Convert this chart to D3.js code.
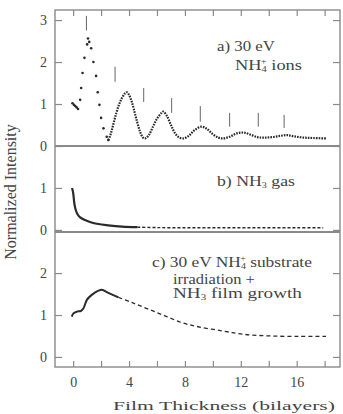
<!DOCTYPE html>
<html>
<head>
<meta charset="utf-8">
<script src="https://cdn.jsdelivr.net/npm/d3@7"></script>
<style>
  body { margin: 0; background: #fff; }
  svg { font-family: "Liberation Serif", "Times New Roman", serif; }
</style>
</head>
<body>
<svg width="343" height="414" viewBox="0 0 343 414"></svg>
<script>
// panel a) 30 eV NH4+ ions - the first, sparse points
var aDotX = [-0.05, 0.05, 0.15, 0.25, 0.35, 0.5, 0.57, 0.67, 0.81, 1.0, 1.06, 1.15, 1.29, 1.45, 1.64, 1.76, 1.88, 2.0, 2.17, 2.4, 2.52];
var aDotY = [1.02, 0.98, 0.95, 0.92, 0.88, 1.1, 1.38, 1.74, 2.1, 2.42, 2.56, 2.48, 2.33, 2.0, 1.67, 1.28, 0.98, 0.67, 0.42, 0.22, 0.14];
// panel a) the dense oscillating part
var aLineX = [2.52, 2.7, 2.9, 3.1, 3.3, 3.5, 3.7, 3.85, 4.0, 4.2, 4.4, 4.6, 4.8, 5.0, 5.15, 5.4, 5.7, 6.0, 6.3, 6.45, 6.7, 7.0, 7.3, 7.6, 7.9, 8.3, 8.7, 9.2, 9.6, 10.0, 10.4, 10.7, 11.2, 11.7, 12.2, 12.7, 13.2, 13.6, 14.2, 14.8, 15.3, 15.8, 16.5, 17.2, 18.1];
var aLineY = [0.14, 0.3, 0.55, 0.8, 1.0, 1.15, 1.25, 1.28, 1.22, 1.05, 0.8, 0.55, 0.33, 0.2, 0.18, 0.25, 0.45, 0.65, 0.78, 0.82, 0.72, 0.5, 0.3, 0.2, 0.18, 0.25, 0.38, 0.46, 0.4, 0.28, 0.2, 0.18, 0.22, 0.3, 0.32, 0.27, 0.21, 0.2, 0.21, 0.24, 0.26, 0.23, 0.2, 0.19, 0.18];
// panel a) vertical marks above the maxima
var markX = [0.95, 3.0, 5.05, 7.05, 9.1, 11.2, 13.25, 15.1];
var markLo = [2.75, 1.53, 1.05, 0.79, 0.58, 0.46, 0.46, 0.43];
var markHi = [3.1, 1.89, 1.38, 1.14, 0.95, 0.79, 0.79, 0.74];

// panel b) NH3 gas
var bX = [-0.08, -0.04, 0.0, 0.03, 0.06, 0.1, 0.18, 0.3, 0.5, 0.8, 1.2, 1.8, 2.5, 3.5, 4.6];
var bY = [1.0, 0.95, 0.88, 0.8, 0.7, 0.6, 0.48, 0.38, 0.3, 0.24, 0.19, 0.14, 0.11, 0.08, 0.065];
var bTailX = [4.6, 6, 8, 10, 12, 14, 16, 17.9];
var bTailY = [0.065, 0.055, 0.05, 0.05, 0.05, 0.05, 0.05, 0.05];

// panel c) substrate irradiation + NH3 film growth
var cX = [-0.1, 0.02, 0.26, 0.57, 0.74, 0.98, 1.33, 1.81, 2.05, 2.52, 3.24];
var cY = [0.96, 1.04, 1.08, 1.1, 1.16, 1.36, 1.48, 1.58, 1.6, 1.53, 1.42];
var cTailX = [3.24, 4.19, 5.38, 6.57, 7.76, 8.95, 10.7, 12.2, 14.1, 16.2, 18.1];
var cTailY = [1.42, 1.3, 1.14, 0.98, 0.82, 0.72, 0.62, 0.54, 0.5, 0.49, 0.49];

// tick values
var xTicks = [0, 2, 4, 6, 8, 10, 12, 14, 16, 18];
var xTickLabels = [0, 4, 8, 12, 16];
var aTicks = [0, 1, 2, 3];
var bTicks = [0, 1];
var cTicks = [0, 1, 2];

var svg = d3.select("svg");
var ink = "#2a2a2a", frame = "#8a8a8a", textInk = "#444";

var left = 55, right = 340;
var x = d3.scaleLinear().domain([-1.3, 19.1]).range([left, right]);

var panels = [
  { y: d3.scaleLinear().domain([0, 3.24]).range([146, 10]), ticks: aTicks },
  { y: d3.scaleLinear().domain([-0.05, 2.0]).range([232, 146]), ticks: bTicks },
  { y: d3.scaleLinear().domain([-0.24, 2.98]).range([367, 232]), ticks: cTicks }
];

function styleAxis(g) {
  g.select(".domain").remove();
  g.selectAll(".tick line").attr("stroke", frame).attr("stroke-width", 1.2);
  g.selectAll(".tick text")
    .attr("fill", textInk)
    .attr("font-family", "Liberation Serif, serif")
    .attr("font-size", 14);
}

panels.forEach(function(p) {
  svg.append("g")
    .attr("transform", "translate(" + left + ",0)")
    .call(d3.axisLeft(p.y).tickValues(p.ticks).tickSize(-7).tickPadding(8).tickFormat(d3.format("d")))
    .call(styleAxis);
  svg.append("g")
    .attr("transform", "translate(" + right + ",0)")
    .call(d3.axisRight(p.y).tickValues(p.ticks).tickSize(-7).tickFormat(""))
    .call(styleAxis);
});

// top ticks of panel a, bottom ticks + labels of panel c
svg.append("g")
  .attr("transform", "translate(0,10)")
  .call(d3.axisTop(x).tickValues(xTicks).tickSize(-6).tickFormat(""))
  .call(styleAxis);
svg.append("g")
  .attr("transform", "translate(0,367)")
  .call(d3.axisBottom(x).tickValues(xTicks).tickSize(-6).tickPadding(10)
    .tickFormat(function(d) { return xTickLabels.indexOf(d) >= 0 ? d : ""; }))
  .call(styleAxis);

// frame + dividers
svg.append("rect")
  .attr("x", left).attr("y", 10)
  .attr("width", right - left).attr("height", 357)
  .attr("fill", "none").attr("stroke", frame).attr("stroke-width", 1.4);
[146, 232].forEach(function(yy) {
  svg.append("line")
    .attr("x1", left).attr("x2", right).attr("y1", yy).attr("y2", yy)
    .attr("stroke", frame).attr("stroke-width", 1.8);
});

// data
var pa = panels[0], pb = panels[1], pc = panels[2];

function drawLine(xs, ys, yScale, width, dash) {
  var pts = xs.map(function(d, i) { return [x(d), yScale(ys[i])]; });
  svg.append("path")
    .attr("d", d3.line().curve(d3.curveCatmullRom)(pts))
    .attr("fill", "none")
    .attr("stroke", ink)
    .attr("stroke-width", width)
    .attr("stroke-dasharray", dash);
}

svg.append("g").selectAll("circle")
  .data(aDotX)
  .join("circle")
  .attr("cx", function(d) { return x(d); })
  .attr("cy", function(d, i) { return pa.y(aDotY[i]); })
  .attr("r", 1.3)
  .attr("fill", ink);
drawLine(aLineX, aLineY, pa.y, 2.2, "1.6,1.1");

svg.append("g").selectAll("line")
  .data(markX)
  .join("line")
  .attr("x1", function(d) { return x(d); })
  .attr("x2", function(d) { return x(d); })
  .attr("y1", function(d, i) { return pa.y(markLo[i]); })
  .attr("y2", function(d, i) { return pa.y(markHi[i]); })
  .attr("stroke", "#666").attr("stroke-width", 1);

drawLine(bX, bY, pb.y, 2.2, null);
drawLine(bTailX, bTailY, pb.y, 1.4, "3,2");

drawLine(cX, cY, pc.y, 2, null);
drawLine(cTailX, cTailY, pc.y, 1.3, "4,3");

// text labels, stretched to the width they have in the scan
function label(px, py, w, anchor, build, size) {
  var g = svg.append("g");
  var t = g.append("text")
    .attr("font-size", size || 14)
    .attr("fill", textInk)
    .attr("text-anchor", anchor);
  build(t);
  var bw = t.node().getBBox().width;
  g.attr("transform", "translate(" + px + "," + py + ") scale(" + (w / bw) + ",1)");
}
function nh4(t) {
  t.append("tspan").text("NH");
  t.append("tspan").attr("font-size", 8).attr("dy", 2).text("4");
  t.append("tspan").attr("font-size", 8).attr("dx", -4.5).attr("dy", -8).text("+");
}
function nh3(t) {
  t.append("tspan").text("NH");
  t.append("tspan").attr("font-size", 8).attr("dy", 2).text("3");
}

label(217, 51, 58, "start", function(t) { t.text("a) 30 eV"); });
label(235, 70, 67, "start", function(t) {
  nh4(t);
  t.append("tspan").attr("dy", 6).text(" ions");
});
label(217, 186, 78, "start", function(t) {
  t.append("tspan").text("b) ");
  nh3(t);
  t.append("tspan").attr("dy", -2).text(" gas");
});
label(152, 267, 160, "start", function(t) {
  t.append("tspan").text("c) 30 eV ");
  nh4(t);
  t.append("tspan").attr("dy", 6).text(" substrate");
});
label(173, 284, 82, "start", function(t) { t.text("irradiation  +"); });
label(173, 298, 129, "start", function(t) {
  nh3(t);
  t.append("tspan").attr("dy", -2).text(" film growth");
});

label(224, 410, 222, "middle", function(t) { t.text("Film Thickness (bilayers)"); }, 13);

svg.append("text")
  .attr("transform", "translate(16,192) rotate(-90)")
  .attr("text-anchor", "middle")
  .attr("font-size", 16)
  .attr("fill", textInk)
  .text("Normalized Intensity");
</script>
</body>
</html>
